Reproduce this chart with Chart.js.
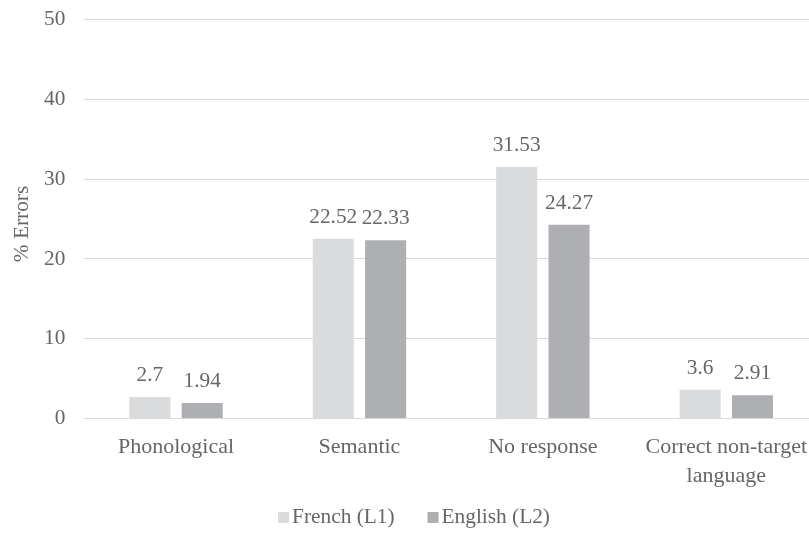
<!DOCTYPE html>
<html>
<head>
<meta charset="utf-8">
<script src="https://cdn.jsdelivr.net/npm/chart.js@4/dist/chart.umd.min.js"></script>
<style>
  html, body { margin: 0; padding: 0; background: #fff; overflow: hidden; }
  #wrap { width: 818px; height: 533px; }
</style>
</head>
<body>
<div id="wrap"><canvas id="c" width="818" height="533"></canvas></div>
<script>
const categories = ["Phonological", "Semantic", "No response", ["Correct non-target", "language"]];
const seriesNames = ["French (L1)", "English (L2)"];
const frenchValues = [2.7, 22.52, 31.53, 3.6];
const englishValues = [1.94, 22.33, 24.27, 2.91];
const yTicks = [0, 10, 20, 30, 40, 50];
const yTitle = "% Errors";

const FONT = "'Liberation Serif', 'Times New Roman', serif";
const TEXT = "#666666";
const SIZE = 21.33;
const colors = ["#dadbdd", "#aeafb2"];

const dataLabels = {
  id: "dataLabels",
  afterDatasetsDraw(chart) {
    const ctx = chart.ctx;
    ctx.save();
    ctx.font = SIZE + "px " + FONT;
    ctx.fillStyle = TEXT;
    ctx.textAlign = "center";
    ctx.textBaseline = "alphabetic";
    chart.data.datasets.forEach((ds, i) => {
      const meta = chart.getDatasetMeta(i);
      meta.data.forEach((el, j) => {
        ctx.fillText(String(ds.data[j]), el.x, el.y - 16);
      });
    });
    ctx.restore();
  }
};

const customText = {
  id: "customText",
  afterDraw(chart) {
    const ctx = chart.ctx;
    ctx.save();
    ctx.font = SIZE + "px " + FONT;
    // y-axis title
    ctx.fillStyle = TEXT;
    ctx.translate(22.5, 224);
    ctx.rotate(-Math.PI / 2);
    ctx.textAlign = "center";
    ctx.textBaseline = "middle";
    ctx.fillText(yTitle, 0, 0);
    ctx.setTransform(1, 0, 0, 1, 0, 0);
    // legend
    const box = 11, gapBoxText = 3, gapItems = 33;
    const items = chart.data.datasets.map(ds => ({ text: ds.label, color: ds.backgroundColor, w: ctx.measureText(ds.label).width }));
    let total = 0;
    items.forEach((it, i) => { total += box + gapBoxText + it.w + (i < items.length - 1 ? gapItems : 0); });
    let x = chart.width / 2 + 5 - total / 2;
    const yMid = 517.5;
    items.forEach(it => {
      ctx.fillStyle = it.color;
      ctx.fillRect(x, yMid - box / 2, box, box);
      x += box + gapBoxText;
      ctx.fillStyle = TEXT;
      ctx.textAlign = "left";
      ctx.textBaseline = "middle";
      ctx.fillText(it.text, x, yMid);
      x += it.w + gapItems;
    });
    ctx.restore();
  }
};

new Chart(document.getElementById("c"), {
  type: "bar",
  data: {
    labels: categories,
    datasets: [
      { label: seriesNames[0], data: frenchValues, backgroundColor: colors[0] },
      { label: seriesNames[1], data: englishValues, backgroundColor: colors[1] }
    ]
  },
  options: {
    responsive: false,
    animation: false,
    devicePixelRatio: 1,
    layout: { padding: { top: 19.5, right: 0, bottom: 0, left: 0 } },
    datasets: { bar: { barPercentage: 0.784, categoryPercentage: 0.571 } },
    plugins: {
      legend: { display: false },
      tooltip: { enabled: false }
    },
    scales: {
      x: {
        grid: { display: false, drawTicks: false },
        border: { display: false },
        ticks: {
          color: TEXT,
          font: { family: FONT, size: 22, lineHeight: 1.33 },
          padding: 14,
          maxRotation: 0,
          autoSkip: false
        },
        afterFit(s) { s.height = 114.5; s.paddingLeft = 0; s.paddingRight = 0; }
      },
      y: {
        min: 0,
        max: 50,
        afterBuildTicks(s) { s.ticks = yTicks.map(v => ({ value: v })); },
        grid: { color: "#d9d9d9", lineWidth: 1, drawTicks: false },
        border: { display: false },
        ticks: {
          color: TEXT,
          font: { family: FONT, size: SIZE },
          padding: 19
        },
        afterFit(s) { s.width = 84.3; s.paddingTop = 0; s.paddingBottom = 0; }
      }
    }
  },
  plugins: [dataLabels, customText]
});
</script>
</body>
</html>
